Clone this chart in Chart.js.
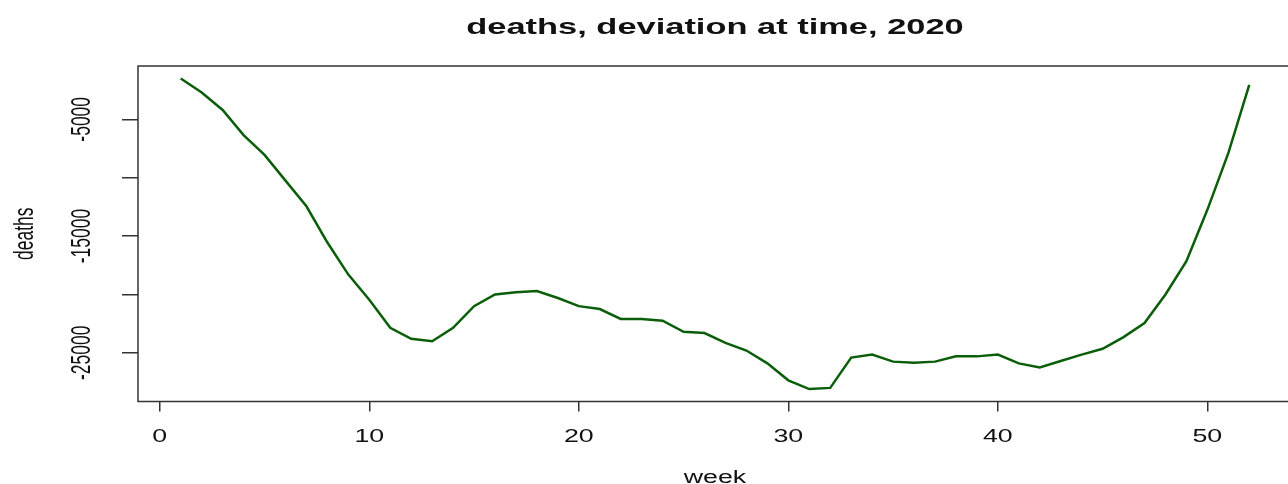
<!DOCTYPE html>
<html>
<head>
<meta charset="utf-8">
<script src="https://cdn.jsdelivr.net/npm/chart.js@4/dist/chart.umd.min.js"></script>
<style>
  html, body { margin: 0; padding: 0; background: #fff; overflow: hidden; }
  #wrap { position: relative; width: 1296px; height: 484px; }
</style>
</head>
<body>
<div id="wrap"><canvas id="c"></canvas></div>
<script>
// Weekly deviation in deaths, 2020
const weeks = [
  1, 2, 3, 4, 5, 6, 7, 8, 9, 10, 11, 12, 13, 14, 15, 16, 17, 18, 19, 20, 21, 22, 23, 24, 25, 26,
  27, 28, 29, 30, 31, 32, 33, 34, 35, 36, 37, 38, 39, 40, 41, 42, 43, 44, 45, 46, 47, 48, 49, 50, 51, 52
];
const deaths = [
  -1500, -2700, -4200, -6350, -8050, -10250, -12450, -15550, -18300, -20450,
  -22850, -23800, -24000, -22850, -21000, -20000, -19800, -19700, -20300, -21000,
  -21250, -22100, -22100, -22250, -23200, -23300, -24150, -24800, -25900, -27350,
  -28100, -28000, -25400, -25150, -25750, -25850, -25750, -25300, -25300, -25150,
  -25900, -26250, -25700, -25150, -24650, -23650, -22450, -20000, -17150, -12750,
  -7900, -2050
];
const xTicks = [0, 10, 20, 30, 40, 50];
const yTicks = [-5000, -10000, -15000, -20000, -25000];
const yLabelled = [-5000, -15000, -25000];

const titleText = 'deaths, deviation at time, 2020';
const xTitle = 'week';
const yTitle = 'deaths';

// axis ranges padded by 4% of the data range on each side
const xPad = (Math.max(...weeks) - Math.min(...weeks)) * 0.04;
const yPad = (Math.max(...deaths) - Math.min(...deaths)) * 0.04;

const STRETCH = 1.53;        // horizontal stretch applied to all text
const INK = '#111';
const AXIS = '#333';

function drawText(ctx, text, x, y, font, rotate) {
  ctx.save();
  ctx.translate(x, y);
  ctx.scale(STRETCH, 1);
  if (rotate) ctx.rotate(-Math.PI / 2);
  ctx.font = font;
  ctx.fillStyle = INK;
  ctx.textAlign = 'center';
  ctx.textBaseline = 'alphabetic';
  ctx.fillText(text, 0, 0);
  ctx.restore();
}

const frameAndText = {
  id: 'frameAndText',
  afterDraw(chart) {
    const { ctx, chartArea: a, scales } = chart;
    const cx = (a.left + a.right) / 2;
    const cy = (a.top + a.bottom) / 2;

    ctx.save();
    ctx.strokeStyle = AXIS;
    ctx.lineWidth = 1.5;
    ctx.strokeRect(a.left, a.top, a.right - a.left, a.bottom - a.top);
    ctx.restore();

    const tickFont = '17.5px "Liberation Sans", Arial, sans-serif';
    xTicks.forEach(v => drawText(ctx, String(v), scales.x.getPixelForValue(v), 442, tickFont, false));
    yLabelled.forEach(v => drawText(ctx, String(v), 90, scales.y.getPixelForValue(v), tickFont, true));

    drawText(ctx, xTitle, cx, 482.5, tickFont, false);
    drawText(ctx, yTitle, 33, cy, tickFont, true);
    drawText(ctx, titleText, cx, 34, 'bold 22.5px "Liberation Sans", Arial, sans-serif', false);
  }
};

new Chart(document.getElementById('c'), {
  type: 'line',
  data: {
    datasets: [{
      data: weeks.map((w, i) => ({ x: w, y: deaths[i] })),
      borderColor: '#0a5e0a',
      borderWidth: 2.5,
      pointRadius: 0,
      tension: 0,
      fill: false
    }]
  },
  options: {
    responsive: true,
    maintainAspectRatio: false,
    animation: false,
    events: [],
    layout: { padding: { left: 0, top: 66, right: 4, bottom: 0 } },
    plugins: { legend: { display: false }, tooltip: { enabled: false }, title: { display: false } },
    scales: {
      x: {
        type: 'linear',
        min: Math.min(...weeks) - xPad,
        max: Math.max(...weeks) + xPad,
        afterBuildTicks: s => { s.ticks = xTicks.map(v => ({ value: v })); },
        afterFit: s => { s.height = 82.5; },
        ticks: { display: false },
        border: { display: false },
        grid: { drawOnChartArea: false, drawTicks: true, tickLength: 10, color: AXIS, lineWidth: 1.5 }
      },
      y: {
        type: 'linear',
        min: Math.min(...deaths) - yPad,
        max: Math.max(...deaths) + yPad,
        afterBuildTicks: s => { s.ticks = yTicks.map(v => ({ value: v })); },
        afterFit: s => { s.width = 138; },
        ticks: { display: false },
        border: { display: false },
        grid: { drawOnChartArea: false, drawTicks: true, tickLength: 16, color: AXIS, lineWidth: 1.5 }
      }
    }
  },
  plugins: [frameAndText]
});
</script>
</body>
</html>
